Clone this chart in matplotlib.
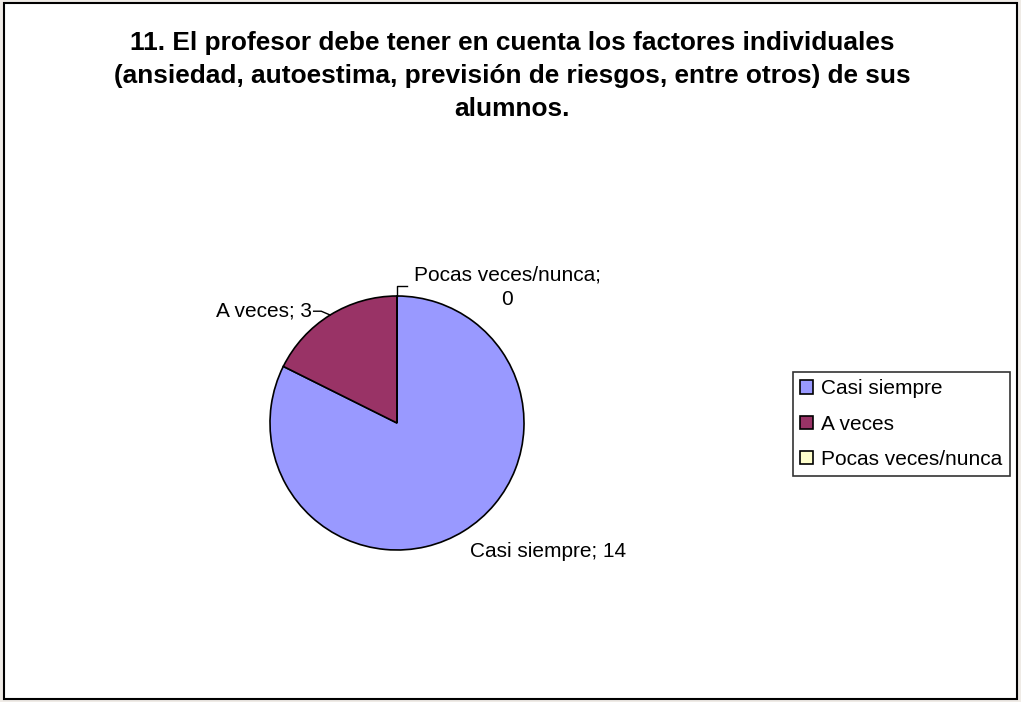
import numpy as np
import matplotlib.pyplot as plt
from matplotlib.patches import Rectangle

plt.rcParams['font.family'] = ['Liberation Sans', 'DejaVu Sans']

# Data
categories = ['Casi siempre', 'A veces', 'Pocas veces/nunca']
values = [14, 3, 0]
colors = ['#9999FF', '#993366', '#FFFFCC']
title = ('11. El profesor debe tener en cuenta los factores individuales\n'
         '(ansiedad, autoestima, previsión de riesgos, entre otros) de sus\n'
         'alumnos.')

W, H = 1021, 702
fig = plt.figure(figsize=(W / 100, H / 100), dpi=100)
fig.patch.set_facecolor('#EFEBE6')

# white chart area with black border
fig.patches.append(Rectangle((4 / W, 3 / H), 1013 / W, 696 / H, transform=fig.transFigure,
                             facecolor='white', edgecolor='black', lw=1.5, zorder=-5))

fig.text(512 / W, 1 - 76 / H, title, ha='center', va='center', fontsize=18.9,
         fontweight='bold', linespacing=1.48)

# pie axes: centre (397, 423), radius 127 px
cx, cy, r = 397, 423, 127
ax = fig.add_axes([(cx - r) / W, (H - cy - r) / H, 2 * r / W, 2 * r / H])
ax.set_zorder(2)
wedges, _ = ax.pie(values, colors=colors, startangle=90, counterclock=False,
                   wedgeprops=dict(edgecolor='black', linewidth=1.2))
ax.set_xlim(-1, 1)
ax.set_ylim(-1, 1)
ax.axis('off')

# data labels
total = sum(values)
ax.text(0.575, -0.94, f'{categories[0]}; {values[0]}', ha='left', va='top', fontsize=15)

mid = np.deg2rad(90 + values[1] * 360 / total / 2)
ex, ey = np.cos(mid), np.sin(mid)
ax.plot([ex, ex - 0.07, ex - 0.13], [ey, ey + 0.03, ey + 0.03], color='black', lw=1, clip_on=False)
ax.text(ex - 0.14, ey + 0.03, f'{categories[1]}; {values[1]}', ha='right', va='center', fontsize=15)

ax.plot([0, 0, 0.08], [1.0, 1.08, 1.08], color='black', lw=1, clip_on=False)
ax.text(0.87, 1.07, f'{categories[2]};\n{values[2]}', ha='center', va='center',
        fontsize=15, linespacing=1.35)

leg = fig.legend(wedges, categories, loc='upper left', bbox_to_anchor=(793 / W, 1 - 372 / H),
                 fontsize=15, frameon=True, fancybox=False, edgecolor='black',
                 handlelength=0.6, handleheight=0.6, handletextpad=0.4,
                 labelspacing=0.78, borderpad=0.35, borderaxespad=0)
leg.set_zorder(3)
leg.get_frame().set_linewidth(1.2)

fig.savefig('out.png', dpi=100, facecolor=fig.get_facecolor())
